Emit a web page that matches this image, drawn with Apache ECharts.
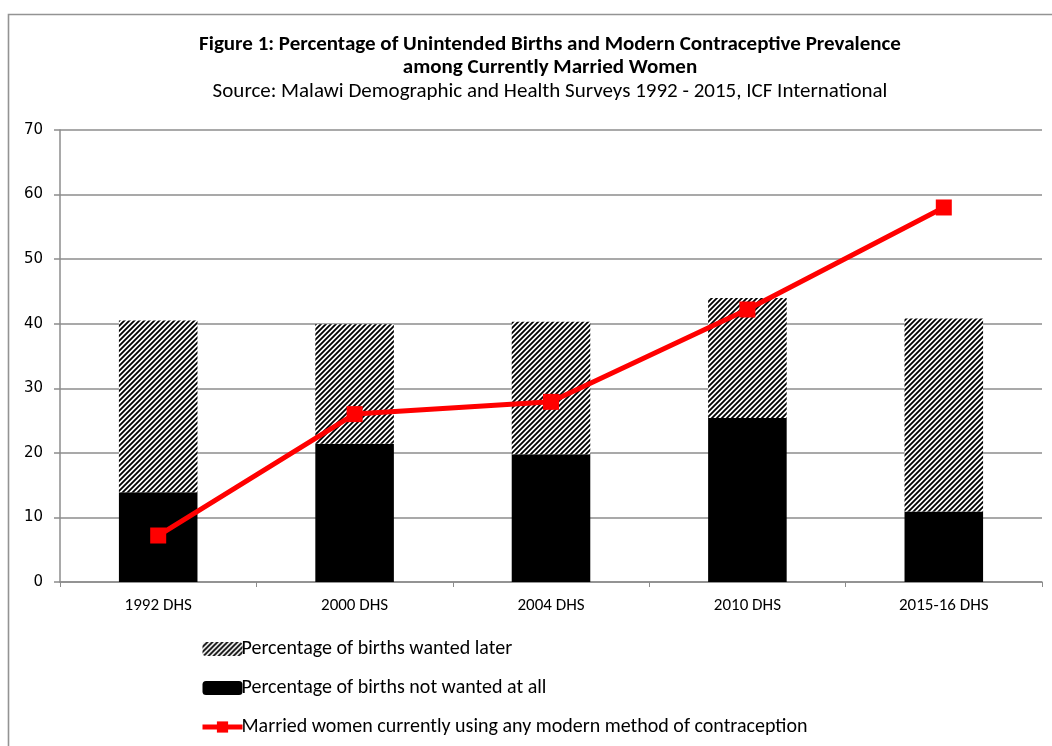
<!DOCTYPE html>
<html>
<head>
<meta charset="utf-8">
<script src="https://cdn.jsdelivr.net/npm/echarts@6/dist/echarts.min.js"></script>
<style>
  html, body { margin: 0; padding: 0; background: #fff; }
  #chart { width: 1052px; height: 746px; }
</style>
</head>
<body>
<div id="chart"></div>
<script>
// Survey rounds and their values (percent)
const surveys = ['1992 DHS', '2000 DHS', '2004 DHS', '2010 DHS', '2015-16 DHS'];
const notWantedAtAll = [13.9, 21.4, 19.8, 25.4, 10.9];
const wantedLater = [26.6, 18.5, 20.5, 18.6, 29.9];
const modernMethodUse = [7.2, 26.0, 27.9, 42.2, 58.0];
const yTicks = { min: 0, max: 70, interval: 10 };

const seriesNames = [
  'Percentage of births wanted later',
  'Percentage of births not wanted at all',
  'Married women currently using any modern method of contraception'
];

const calibriLike = "Carlito, 'Liberation Sans Narrow', 'Open Sans', sans-serif";

// Diagonal black/white hatch used for the "wanted later" bars
function hatchPattern() {
  const s = 5;
  const c = document.createElement('canvas');
  c.width = s; c.height = s;
  const ctx = c.getContext('2d');
  ctx.fillStyle = '#fff';
  ctx.fillRect(0, 0, s, s);
  ctx.strokeStyle = '#000';
  ctx.lineWidth = 1.8;
  ctx.beginPath();
  for (let k = -1; k <= 1; k++) {
    ctx.moveTo(k * s - 1, s + 1);
    ctx.lineTo(k * s + s + 1, -1);
  }
  ctx.stroke();
  return c;
}

const chart = echarts.init(document.getElementById('chart'), null, { renderer: 'canvas' });

chart.setOption({
  backgroundColor: '#fff',
  animation: false,
  graphic: [{
    type: 'polyline',
    silent: true,
    shape: { points: [[8.5, 760], [8.5, 14.5], [1060, 14.5]] },
    style: { stroke: '#939393', lineWidth: 1.6, fill: null }
  }],
  title: {
    text: 'Figure 1: Percentage of Unintended Births and Modern Contraceptive Prevalence\namong Currently Married Women',
    subtext: 'Source: Malawi Demographic and Health Surveys 1992 - 2015, ICF International',
    left: 545,
    top: 28,
    textAlign: 'center',
    itemGap: 2,
    textStyle: { fontFamily: calibriLike, fontWeight: 'bold', fontSize: 21, color: '#000', lineHeight: 23 },
    subtextStyle: { fontFamily: calibriLike, fontSize: 21, color: '#000', lineHeight: 22 }
  },
  legend: {
    orient: 'vertical',
    left: 195,
    top: 634,
    itemGap: 19,
    itemWidth: 40,
    itemHeight: 14,
    data: seriesNames,
    lineStyle: { width: 5 },
    textStyle: { fontFamily: calibriLike, fontSize: 20, lineHeight: 20, color: '#000', padding: [0, 0, 0, -6] }
  },
  grid: { left: 60, right: 10, top: 130, bottom: 164, containLabel: false },
  xAxis: {
    type: 'category',
    data: surveys,
    boundaryGap: true,
    axisLine: { lineStyle: { color: '#8c8c8c', width: 1.5 } },
    axisTick: { show: true, alignWithLabel: false, length: 5, lineStyle: { color: '#8c8c8c' } },
    axisLabel: { fontFamily: calibriLike, fontSize: 17, color: '#000', margin: 15 }
  },
  yAxis: {
    type: 'value',
    min: yTicks.min,
    max: yTicks.max,
    interval: yTicks.interval,
    axisLine: { show: true, lineStyle: { color: '#8c8c8c', width: 1.5 } },
    axisTick: { show: true, inside: false, length: 6, lineStyle: { color: '#8c8c8c', width: 1.5 } },
    axisLabel: { fontFamily: "'DejaVu Sans', Verdana, sans-serif", fontSize: 15, color: '#000', margin: 17 },
    splitLine: { show: true, lineStyle: { color: '#8c8c8c', width: 1.5 } }
  },
  series: [
    {
      name: seriesNames[1],
      type: 'bar',
      stack: 'births',
      barWidth: '40%',
      data: notWantedAtAll,
      itemStyle: { color: '#000' }
    },
    {
      name: seriesNames[0],
      type: 'bar',
      stack: 'births',
      barWidth: '40%',
      data: wantedLater,
      itemStyle: { color: { image: hatchPattern(), repeat: 'repeat' } }
    },
    {
      name: seriesNames[2],
      type: 'line',
      data: modernMethodUse,
      symbol: 'rect',
      symbolSize: 16,
      lineStyle: { color: '#ff0000', width: 5 },
      itemStyle: { color: '#ff0000' },
      z: 5
    }
  ]
});
</script>
</body>
</html>
